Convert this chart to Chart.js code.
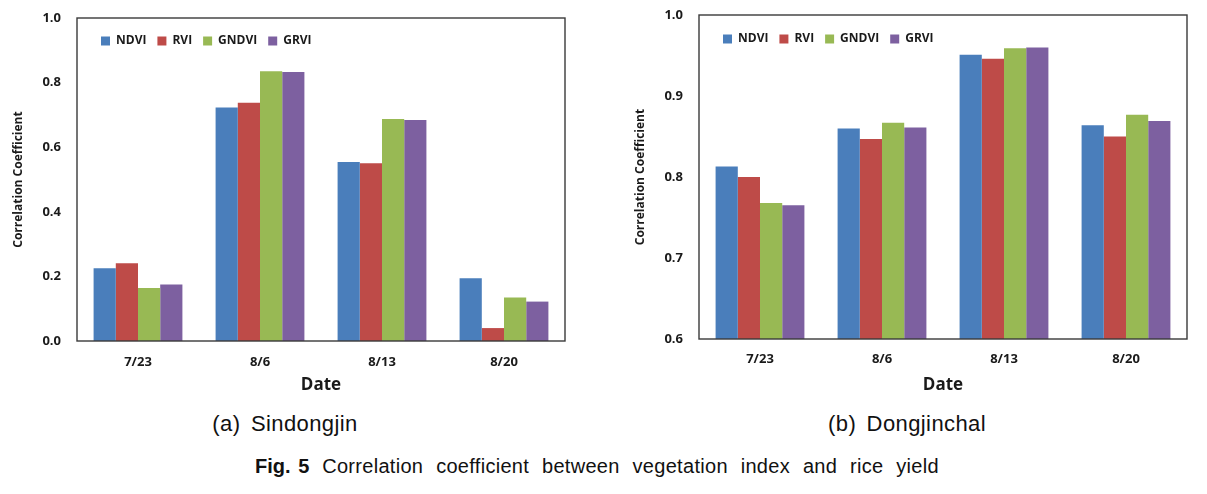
<!DOCTYPE html>
<html>
<head>
<meta charset="utf-8">
<script src="https://cdn.jsdelivr.net/npm/chart.js@4.4.0/dist/chart.umd.min.js"></script>
<style>
  html, body { margin:0; padding:0; background:#fff; }
  body { width:1207px; height:494px; overflow:hidden; position:relative; font-family:'Liberation Sans', Arial, sans-serif; color:#111; }
  #c1 { position:absolute; left:0; top:0; }
  #c2 { position:absolute; left:620px; top:0; }
  .sub { position:absolute; font-size:22px; line-height:22px; letter-spacing:0.4px; word-spacing:4px; white-space:nowrap; transform:translateX(-50%); }
  .cap { position:absolute; font-size:20px; line-height:20px; letter-spacing:0.3px; word-spacing:7px; white-space:nowrap; transform:translateX(-50%); }
  .cap b { font-weight:bold; letter-spacing:0; word-spacing:2px; }
</style>
</head>
<body>
<canvas id="c1" width="600" height="400"></canvas>
<canvas id="c2" width="587" height="400"></canvas>
<div class="sub" style="left:285px; top:413px;">(a) Sindongjin</div>
<div class="sub" style="left:907px; top:413px;">(b) Dongjinchal</div>
<div class="cap" style="left:597px; top:456px;"><b>Fig. 5</b> Correlation coefficient between vegetation index and rice yield</div>
<script>
// ---- data ----
const categories = ['7/23', '8/6', '8/13', '8/20'];
const seriesNames = ['NDVI', 'RVI', 'GNDVI', 'GRVI'];
const seriesColors = ['#4A7EBB', '#BE4B48', '#98B954', '#7D60A0'];

const sindongjinNDVI  = [0.225, 0.723, 0.554, 0.194];
const sindongjinRVI   = [0.241, 0.738, 0.550, 0.040];
const sindongjinGNDVI = [0.164, 0.835, 0.687, 0.135];
const sindongjinGRVI  = [0.175, 0.833, 0.684, 0.122];

const dongjinchalNDVI  = [0.813, 0.860, 0.951, 0.864];
const dongjinchalRVI   = [0.800, 0.847, 0.946, 0.850];
const dongjinchalGNDVI = [0.768, 0.867, 0.959, 0.877];
const dongjinchalGRVI  = [0.765, 0.861, 0.960, 0.869];

const leftTicks  = [0.0, 0.2, 0.4, 0.6, 0.8, 1.0];
const rightTicks = [0.6, 0.7, 0.8, 0.9, 1.0];

const xTitle = 'Date';
const yTitle = 'Correlation Coefficient';

// ---- helpers ----
const tickFont = { family: "'Open Sans', 'Liberation Sans', sans-serif", size: 13, weight: 'bold' };
const textColor = '#1a1a1a';

const framePlugin = {
  id: 'frame',
  afterDatasetsDraw(chart) {
    const { ctx, chartArea: a } = chart;
    ctx.save();
    ctx.strokeStyle = '#3a3a3a';
    ctx.lineWidth = 1.4;
    ctx.strokeRect(a.left, a.top, a.right - a.left, a.bottom - a.top);
    ctx.restore();
  }
};

function legendPlacer(boxX, textCenterY) {
  return {
    id: 'legendPlacer',
    afterLayout(chart) {
      const l = chart.legend;
      const pad = l.options.labels.padding;
      const w = l.width;
      l.left = boxX - pad;
      l.right = l.left + w;
      l.top = textCenterY - pad - 6;
      l.bottom = l.top + 40;
    }
  };
}

function makeChart(id, seriesList, ticks, cfg) {
  const datasets = seriesList.map((vals, i) => ({
    label: seriesNames[i],
    data: vals,
    backgroundColor: seriesColors[i],
    borderWidth: 0,
    categoryPercentage: 0.728,
    barPercentage: 1.0
  }));
  const chart = new Chart(document.getElementById(id), {
    type: 'bar',
    data: { labels: categories, datasets },
    options: {
      responsive: false,
      animation: false,
      layout: { padding: { top: cfg.area.top - 1, right: 20, bottom: 0, left: 0 } },
      plugins: {
        legend: {
          display: true,
          position: 'top',
          align: 'start',
          maxHeight: 1,
          labels: {
            boxWidth: 9,
            boxHeight: 9,
            padding: 11,
            color: textColor,
            font: { family: "'Open Sans', 'Liberation Sans', sans-serif", size: 12, weight: 'bold' }
          }
        },
        tooltip: { enabled: false }
      },
      scales: {
        x: {
          grid: { display: false, drawTicks: false },
          border: { display: false },
          ticks: { color: textColor, font: tickFont, padding: cfg.xTickPad },
          title: {
            display: true, text: xTitle, color: textColor,
            font: { family: "'Liberation Sans Narrow', 'Open Sans', sans-serif", size: 17, weight: 'bold' },
            padding: { top: 0, bottom: 5 }
          },
          afterFit: s => { s.height = cfg.xHeight; }
        },
        y: {
          min: ticks[0],
          max: ticks[ticks.length - 1],
          grid: { display: false, drawTicks: false },
          border: { display: false },
          afterBuildTicks: s => { s.ticks = ticks.map(v => ({ value: v })); },
          ticks: {
            color: textColor, font: tickFont, padding: 16,
            callback: v => Number(v).toFixed(1)
          },
          title: {
            display: true, text: yTitle, color: textColor,
            font: { family: "'Open Sans', 'Liberation Sans', sans-serif", size: 12, weight: 'bold' },
            padding: { top: cfg.yTitlePad, bottom: 0 }
          },
          afterFit: s => { s.width = cfg.yWidth; s.paddingTop = 6; s.paddingBottom = 6; }
        }
      }
    },
    plugins: [framePlugin, legendPlacer(cfg.legendX, cfg.legendY)]
  });
  // correct outer padding so that the plot area lands where wanted
  for (let k = 0; k < 3; k++) {
    const a = chart.chartArea;
    const p = chart.options.layout.padding;
    const dTop = a.top - cfg.area.top;
    const dRight = a.right - cfg.area.right;
    if (Math.abs(dTop) < 0.3 && Math.abs(dRight) < 0.3) break;
    p.top -= dTop;
    p.right += dRight;
    chart.update();
  }
  return chart;
}

makeChart('c1',
  [sindongjinNDVI, sindongjinRVI, sindongjinGNDVI, sindongjinGRVI],
  leftTicks,
  { area: { top: 18, right: 565 }, xHeight: 59, yWidth: 77, xTickPad: 13, yTitlePad: 11, legendX: 101, legendY: 41 });

makeChart('c2',
  [dongjinchalNDVI, dongjinchalRVI, dongjinchalGNDVI, dongjinchalGRVI],
  rightTicks,
  { area: { top: 15, right: 567 }, xHeight: 61, yWidth: 79, xTickPad: 12, yTitlePad: 13, legendX: 103, legendY: 39 });
</script>
</body>
</html>
